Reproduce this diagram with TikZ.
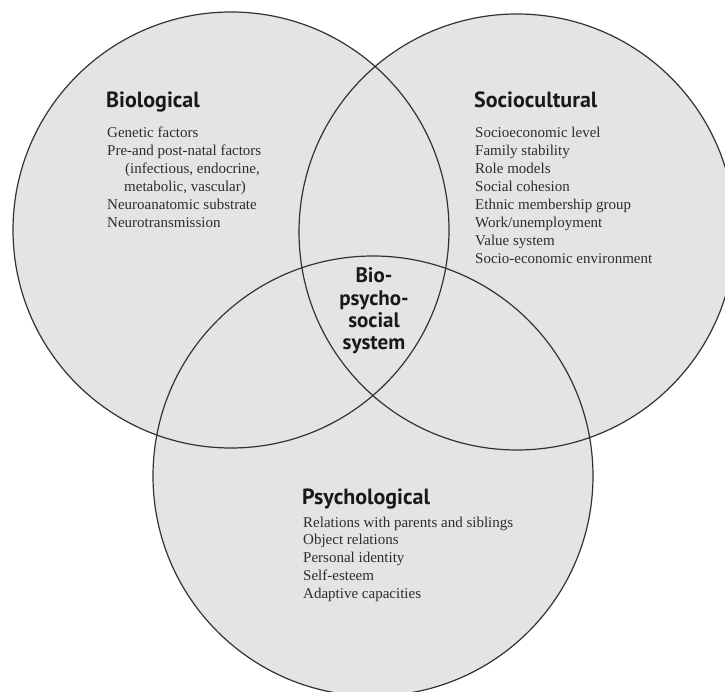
\documentclass[tikz,border=0pt]{standalone}
\usepackage{fontspec}
\setmainfont{Liberation Serif}
\newfontfamily\headfont{PT Sans}
\definecolor{fillgray}{RGB}{228,228,228}
\definecolor{linegray}{RGB}{50,50,50}
\definecolor{textgray}{RGB}{45,45,45}
\definecolor{headgray}{RGB}{25,25,25}
\begin{document}
\begin{tikzpicture}[x=1pt,y=-1pt,
  ring/.style={line width=1.2pt, draw=linegray},
  item/.style={font=\fontsize{15}{18}\selectfont, text=textgray, inner sep=0pt, anchor=base west},
  head/.style={font=\headfont\bfseries\fontsize{22}{24}\selectfont, text=headgray, inner sep=0pt, anchor=base west},
  core/.style={font=\headfont\bfseries\fontsize{21}{23}\selectfont, text=headgray, inner sep=0pt, anchor=base}]
\useasboundingbox (0,0) rectangle (725,692);
\clip (0,0) rectangle (725,692);
\coordinate (bioC) at (231,230);
\coordinate (socC) at (517,232);
\coordinate (psyC) at (373,476);
\fill[fillgray] (bioC) circle[radius=218pt] (socC) circle[radius=218pt] (psyC) circle[radius=220pt];
\draw[ring] (bioC) circle[radius=218pt];
\draw[ring] (socC) circle[radius=218pt];
\draw[ring] (psyC) circle[radius=220pt];
% Biological
\node[head] (bioH) at (106,108) {Biological};
\node[item] (bio1) at (107,138) {Genetic factors};
\node[item] (bio2) at (107,156) {Pre-and post-natal factors};
\node[item] (bio3) at (125,174) {(infectious, endocrine,};
\node[item] (bio4) at (124,192) {metabolic, vascular)};
\node[item] (bio5) at (107,210) {Neuroanatomic substrate};
\node[item] (bio6) at (107,228) {Neurotransmission};
% Sociocultural
\node[head] (socH) at (474,108) {Sociocultural};
\foreach \t [count=\i] in {Socioeconomic level, Family stability, Role models, Social cohesion, Ethnic membership group, Work/unemployment, Value system, Socio-economic environment}
  \node[item] (soc\i) at (475,{138+17.9*(\i-1)}) {\t};
% Psychological
\node[head] (psyH) at (302,504) {Psychological};
\foreach \t [count=\i] in {Relations with parents and siblings, Object relations, Personal identity, Self-esteem, Adaptive capacities}
  \node[item] (psy\i) at (303,{527+17.8*(\i-1)}) {\t};
% Centre
\foreach \t [count=\i] in {Bio-, psycho-, social, system}
  \node[core] (core\i) at (374,{283+22.3*(\i-1)}) {\t};
\end{tikzpicture}
\end{document}
